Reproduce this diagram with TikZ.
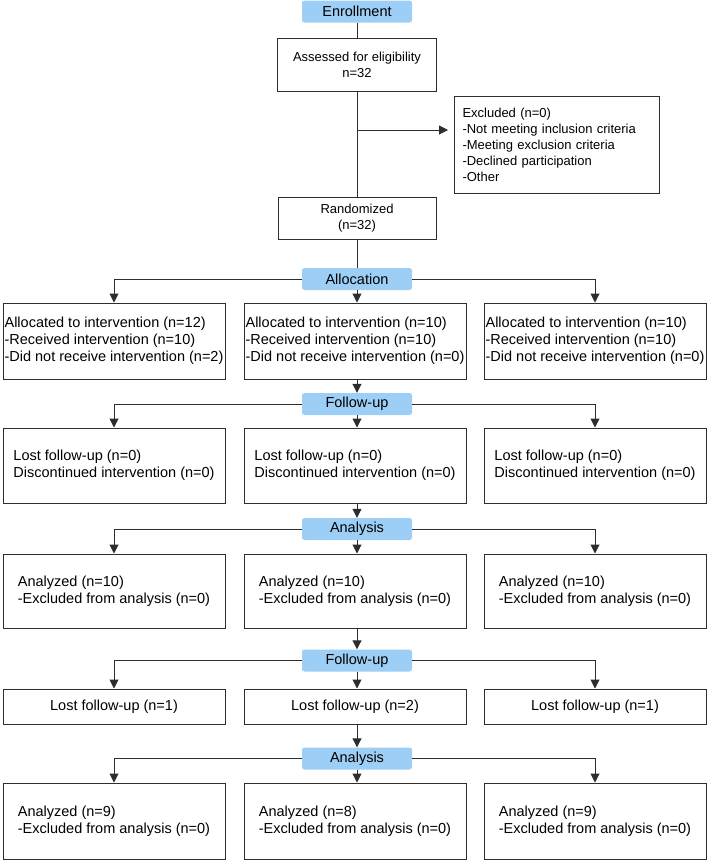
\documentclass[tikz,border=0pt]{standalone}
\usepackage{fontspec}
\setmainfont{Liberation Sans}
\usetikzlibrary{arrows.meta}
\definecolor{phaseblue}{RGB}{157,206,245}
\definecolor{linegray}{RGB}{45,45,45}
\begin{document}
\begin{tikzpicture}[x=1pt,y=-1pt,
        phase/.style={fill=phaseblue,rounded corners=2.5pt,minimum width=110pt,minimum height=22pt,inner sep=0pt,font=\fontsize{14.5}{17}\selectfont},
        box/.style={draw=linegray,line width=1pt,align=left,minimum width=222pt,minimum height=#1,inner sep=0pt,font=\fontsize{14.5}{17}\selectfont},
        box/.default=76pt,
        smallbox/.style={draw=linegray,line width=1pt,align=center,inner sep=0pt,font=\fontsize{13}{16}\selectfont},
        line/.style={draw=linegray,line width=1pt},
        arr/.style={line,-{Triangle[length=9pt,width=9pt]}}]
    \useasboundingbox (0,0) rectangle (708,860);
        % Enrollment
        \node[phase] (enroll) at (357,11.5) {Enrollment};
        \node[smallbox,minimum width=159pt,minimum height=53pt] (assess) at (357,64.5) {Assessed for eligibility\\n=32};
        \node[smallbox,align=left,text width=189pt,inner xsep=8pt,minimum height=97pt,anchor=north west] (excl) at (454,96)
            {Excluded (n=0)\\-Not meeting inclusion criteria\\-Meeting exclusion criteria\\-Declined participation\\-Other\\[4pt]};
        \node[smallbox,minimum width=158pt,minimum height=42pt] (rand) at (357,218) {Randomized\\(n=32)};
        \coordinate (excl-br) at (357,130);
        \draw[line] (enroll) -- (assess);
        \draw[line] (assess) -- (rand);
        \draw[arr,shorten >=6pt] (excl-br) -- (excl-br -| excl.west);
        % Allocation
        \node[phase] (alloc) at (357,279) {Allocation};
        \node[box] (alloc-l) at (114,341) {Allocated to intervention (n=12)\\-Received intervention (n=10)\\-Did not receive intervention (n=2)};
        \node[box] (alloc-m) at (355,341) {Allocated to intervention (n=10)\\-Received intervention (n=10)\\-Did not receive intervention (n=0)};
        \node[box] (alloc-r) at (595,341) {Allocated to intervention (n=10)\\-Received intervention (n=10)\\-Did not receive intervention (n=0)};
        \draw[line] (rand) -- (alloc);
        \draw[arr] (alloc.west) -| (alloc-l.north);
        \draw[arr] (alloc.south) -- (alloc.south |- alloc-m.north);
        \draw[arr] (alloc.east) -| (alloc-r.north);
        % First follow-up
        \node[phase] (fu-a) at (357,404) {Follow-up};
        \node[box=75pt] (lost-l) at (114,465.5) {Lost follow-up (n=0)\\Discontinued intervention (n=0)};
        \node[box=75pt] (lost-m) at (355,465.5) {Lost follow-up (n=0)\\Discontinued intervention (n=0)};
        \node[box=75pt] (lost-r) at (595,465.5) {Lost follow-up (n=0)\\Discontinued intervention (n=0)};
        \draw[arr] (alloc-m.south -| fu-a) -- (fu-a.north);
        \draw[arr] (fu-a.west) -| (lost-l.north);
        \draw[arr] (fu-a.south) -- (fu-a.south |- lost-m.north);
        \draw[arr] (fu-a.east) -| (lost-r.north);
        % First analysis
        \node[phase] (an-a) at (357,529) {Analysis};
        \node[box=74pt] (anl-l) at (114,591) {Analyzed (n=10)\\-Excluded from analysis (n=0)};
        \node[box=74pt] (anl-m) at (355,591) {Analyzed (n=10)\\-Excluded from analysis (n=0)};
        \node[box=74pt] (anl-r) at (595,591) {Analyzed (n=10)\\-Excluded from analysis (n=0)};
        \draw[arr] (lost-m.south -| an-a) -- (an-a.north);
        \draw[arr] (an-a.west) -| (anl-l.north);
        \draw[arr] (an-a.south) -- (an-a.south |- anl-m.north);
        \draw[arr] (an-a.east) -| (anl-r.north);
        % Second follow-up
        \node[phase] (fu-b) at (357,660.5) {Follow-up};
        \node[box=35pt,align=center] (lost2-l) at (114,706.5) {Lost follow-up (n=1)};
        \node[box=35pt,align=center] (lost2-m) at (355,706.5) {Lost follow-up (n=2)};
        \node[box=35pt,align=center] (lost2-r) at (595,706.5) {Lost follow-up (n=1)};
        \draw[arr] (anl-m.south -| fu-b) -- (fu-b.north);
        \draw[arr] (fu-b.west) -| (lost2-l.north);
        \draw[arr] (fu-b.south) -- (fu-b.south |- lost2-m.north);
        \draw[arr] (fu-b.east) -| (lost2-r.north);
        % Second analysis
        \node[phase] (an-b) at (357,758.5) {Analysis};
        \node[box] (anl2-l) at (114,821) {Analyzed (n=9)\\-Excluded from analysis (n=0)};
        \node[box] (anl2-m) at (355,821) {Analyzed (n=8)\\-Excluded from analysis (n=0)};
        \node[box] (anl2-r) at (595,821) {Analyzed (n=9)\\-Excluded from analysis (n=0)};
        \draw[arr] (lost2-m.south -| an-b) -- (an-b.north);
        \draw[arr] (an-b.west) -| (anl2-l.north);
        \draw[arr] (an-b.south) -- (an-b.south |- anl2-m.north);
        \draw[arr] (an-b.east) -| (anl2-r.north);
    \end{tikzpicture}
\end{document}
